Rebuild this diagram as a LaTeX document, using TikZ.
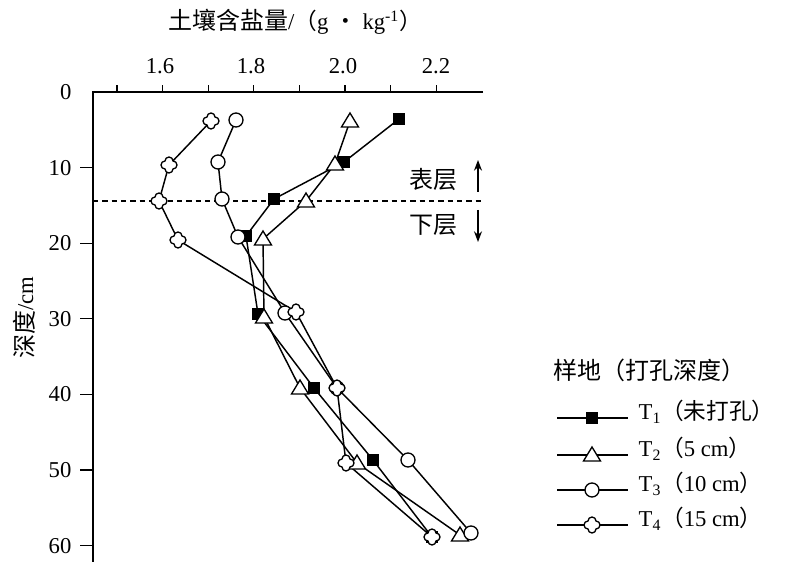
\documentclass[tikz,border=0pt]{standalone}
\usepackage{fontspec}
\setmainfont{Liberation Serif}
\newfontfamily\cjk{Noto Sans CJK SC}
\usetikzlibrary{shapes.geometric,arrows.meta}
\begin{document}
\begin{tikzpicture}[x=0.75pt,y=-0.75pt,line width=1pt,
  lbl/.style={font=\fontsize{17}{20}\selectfont,inner sep=0pt},
  conn/.style={line width=1.1pt},
  sq/.pic={\fill[black] (-6,-6) rectangle (6,6);},
  tri/.pic={\draw[fill=white] (0,-8) -- (8.5,6) -- (-8.5,6) -- cycle;},
  circ/.pic={\draw[fill=white] (0,0) circle[radius=7];},
  crs/.pic={\draw[fill=white] (4,-4) arc[start angle=-90,end angle=90,radius=4]
     arc[start angle=0,end angle=180,radius=4]
     arc[start angle=90,end angle=270,radius=4]
     arc[start angle=180,end angle=360,radius=4] -- cycle;}]
\useasboundingbox (0,0) rectangle (803,570);
% axes
\coordinate (o) at (93,92);
\coordinate (xe) at (483,92);
\coordinate (ye) at (93,562);
\draw (xe) -- (o) -- (ye);
\foreach \i in {0,...,7}{\draw (117+45.6*\i,92) -- ++(0,-7);}
\foreach \v/\x in {1.6/160,1.8/251,2.0/343,2.2/436}{\node[lbl] at (\x,66) {\v};}
\foreach \d in {0,1,...,6}{
  \pgfmathsetmacro\yy{92+75.6*\d}
  \ifnum\d>0 \draw (80,\yy) -- (93,\yy);\fi
  \node[lbl,anchor=east] at (72,\yy) {\the\numexpr\d*10\relax};}
\node[lbl] (xt) at (295,22) {{\cjk\fontsize{18}{20}\selectfont 土壤含盐量}/{\cjk （}g {\cjk ・} kg\textsuperscript{-1}{\cjk ）}};
\node[lbl,rotate=90] (yt) at (24,318) {{\cjk\fontsize{18}{20}\selectfont 深度}/cm};
% divider
\coordinate (d1) at (93,201); \coordinate (d2) at (483,201);
\draw[dashed,dash pattern=on 4pt off 3pt] (d1) -- (d2);
\node[lbl,font=\cjk\fontsize{18}{20}\selectfont] (bc) at (433,179) {表层};
\node[lbl,font=\cjk\fontsize{18}{20}\selectfont] (xc) at (433,225) {下层};
\coordinate (u1) at (478,192); \coordinate (u2) at (478,160);
\coordinate (w1) at (478,210); \coordinate (w2) at (478,242);
\draw[-{Stealth[length=8pt,width=6pt]}] (u1) -- (u2);
\draw[-{Stealth[length=8pt,width=6pt]}] (w1) -- (w2);
% data
\foreach \x/\y [count=\k] in {399/119,344/162,274/199,246/236,258/314,314/388,373/460,432/537}{\coordinate (a\k) at (\x,\y);}
\foreach \x/\y [count=\k] in {350/121,335/164,306/201,263/239,264/317,300/388,357/463,460/535}{\coordinate (b\k) at (\x,\y);}
\foreach \x/\y [count=\k] in {236/120,218/162,222/199,238/237,285/313,337/388,408/460,471/533}{\coordinate (c\k) at (\x,\y);}
\foreach \x/\y [count=\k] in {211/121,169/165,159/201,178/240,296/312,337/388,346/463,432/537}{\coordinate (d\k) at (\x,\y);}
\foreach \n in {a,b,c,d}{
  \foreach \k [evaluate=\k as \j using int(\k+1)] in {1,...,7}{\draw[conn] (\n\k) -- (\n\j);}}
\foreach \k in {1,...,8}{
  \pic at (a\k) {sq}; \pic at (b\k) {tri}; \pic at (c\k) {circ}; \pic at (d\k) {crs};}
% legend
\node[lbl,anchor=west,font=\cjk\fontsize{18}{20}\selectfont] (lt) at (553,370) {样地（打孔深度）};
\foreach \m/\y/\t [count=\k] in {sq/418/{T\textsubscript{1}{\cjk （未打孔）}},tri/455/{T\textsubscript{2}{\cjk （}5 cm{\cjk ）}},circ/490/{T\textsubscript{3}{\cjk （}10 cm{\cjk ）}},crs/525/{T\textsubscript{4}{\cjk （}15 cm{\cjk ）}}}{
  \coordinate (l\k a) at (557,\y); \coordinate (l\k b) at (628,\y); \coordinate (l\k m) at (592,\y);
  \draw[conn] (l\k a) -- (l\k b);
  \pic at (l\k m) {\m};
  \node[lbl,anchor=west] (lg\k) at (638,\y-6) {\t};}
\end{tikzpicture}
\end{document}
